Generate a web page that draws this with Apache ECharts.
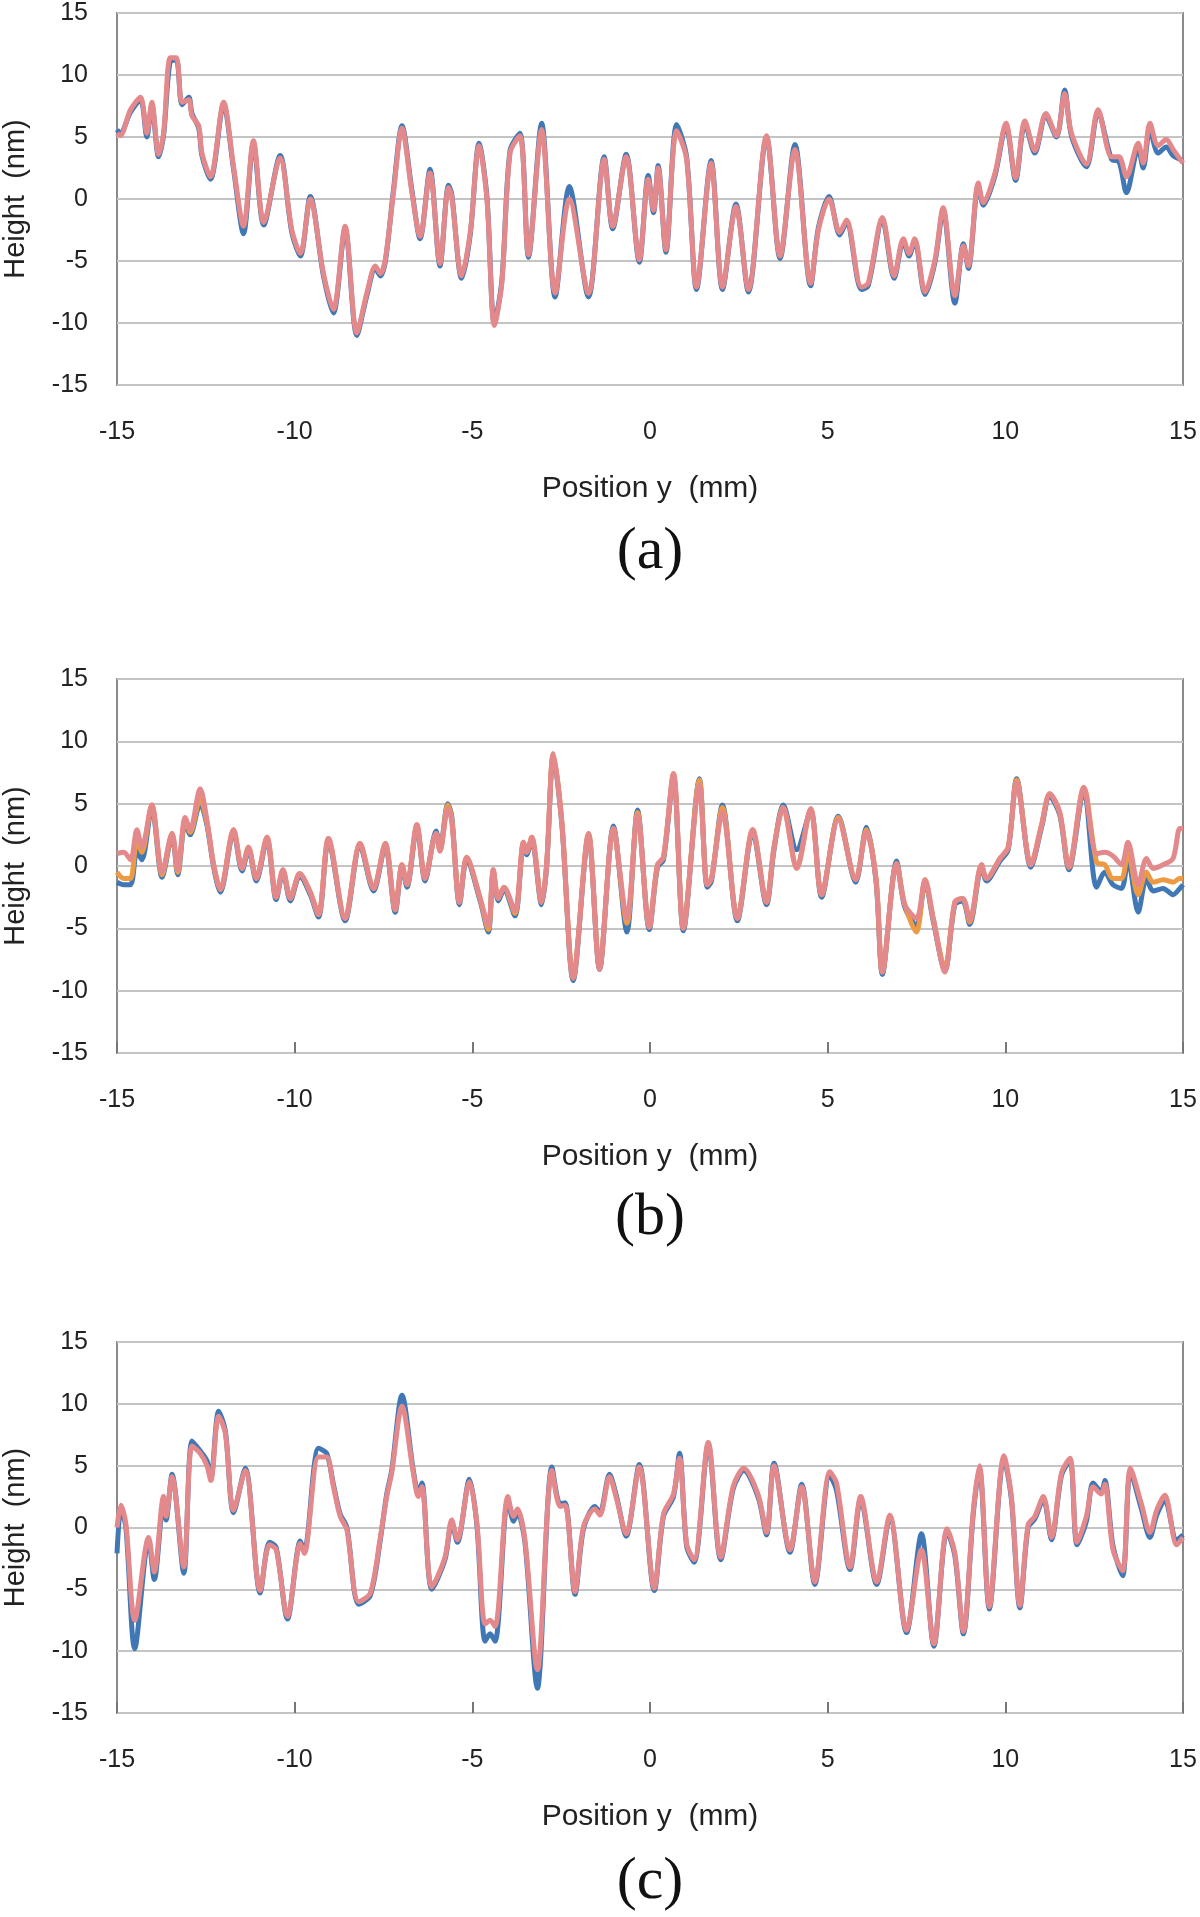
<!DOCTYPE html>
<html>
<head>
<meta charset="utf-8">
<script src="https://cdn.jsdelivr.net/npm/echarts@6/dist/echarts.min.js"></script>
<style>
  html, body { margin: 0; padding: 0; background: #fff; }
  #chart { width: 1200px; height: 1917px; }
</style>
</head>
<body>
<div id="chart"></div>
<script>
// x ticks (mm) and y ticks (nm)
var xTicks = [-15, -10, -5, 0, 5, 10, 15];
var yTicks = [-15, -10, -5, 0, 5, 10, 15];
var panelLabels = ['(a)', '(b)', '(c)'];

// panel (a)
var posA = [-15.00,-14.91,-14.62,-14.34,-14.16,-14.02,-13.83,-13.69,-13.50,-13.33,
  -13.17,-12.98,-12.89,-12.70,-12.61,-12.37,-12.00,-11.72,-11.44,-11.16,
  -10.87,-10.41,-10.08,-9.84,-9.56,-9.19,-8.91,-8.58,-8.25,-7.97,
  -7.73,-7.59,-7.45,-7.22,-6.98,-6.70,-6.47,-6.19,-5.91,-5.67,
  -5.58,-5.30,-5.06,-4.81,-4.59,-4.38,-4.17,-3.94,-3.66,-3.42,
  -3.05,-2.67,-2.27,-1.73,-1.29,-1.05,-0.67,-0.30,-0.05,0.10,
  0.23,0.45,0.75,1.03,1.31,1.72,2.04,2.42,2.77,3.28,
  3.66,4.08,4.52,4.74,5.04,5.34,5.53,5.95,6.14,6.54,
  6.87,7.13,7.29,7.45,7.74,8.02,8.25,8.58,8.82,8.96,
  9.24,9.38,9.71,10.02,10.29,10.55,10.83,11.14,11.44,11.67,
  11.86,12.28,12.61,12.99,13.20,13.41,13.74,13.88,14.07,14.30,
  14.53,14.72,15.00];
var pinkA = [5.3,5.1,7.2,8.2,5.3,7.8,3.6,5.3,11.4,11.4,
  7.8,8.0,6.7,5.9,3.7,1.8,7.8,2.6,-2.2,4.7,
  -1.9,3.3,-2.5,-4.4,0.0,-6.0,-8.9,-2.2,-10.8,-7.6,
  -5.4,-6.0,-4.9,0.5,5.7,0.5,-3.0,2.1,-5.2,0.9,
  0.2,-6.2,-2.7,4.3,0.0,-10.2,-6.8,3.7,5.1,-4.5,
  5.6,-7.6,0.0,-7.6,3.2,-2.2,3.4,-4.9,1.6,-0.9,
  2.5,-4.1,5.5,3.2,-7.1,2.9,-7.1,-0.6,-7.3,5.1,
  -4.6,4.0,-6.8,-2.5,0.0,-2.7,-1.7,-7.1,-6.8,-1.5,
  -6.2,-3.2,-4.4,-3.2,-7.5,-4.9,-0.7,-7.8,-3.8,-5.4,
  1.3,-0.3,2.1,6.1,1.7,6.3,3.9,6.9,5.1,8.5,
  5.3,2.8,7.2,3.4,3.4,1.8,4.5,2.9,6.1,4.3,
  4.8,4.0,2.9];
var blueA = [5.6,5.3,7.0,8.0,5.0,7.6,3.4,5.1,11.1,11.2,
  7.6,8.2,6.9,5.7,3.5,1.6,7.6,2.4,-2.8,4.5,
  -2.1,3.5,-2.7,-4.6,0.2,-6.2,-9.2,-2.4,-11.0,-7.8,
  -5.6,-6.2,-5.1,0.7,5.9,0.7,-3.2,2.4,-5.4,1.1,
  0.4,-6.4,-2.9,4.5,0.2,-10.0,-6.6,3.9,5.3,-4.7,
  6.1,-7.9,1.0,-7.9,3.4,-2.4,3.6,-5.1,1.9,-1.1,
  2.7,-4.3,6.0,3.4,-7.3,3.1,-7.3,-0.4,-7.5,5.0,
  -4.8,4.4,-7.0,-2.3,0.2,-2.9,-1.9,-7.3,-7.0,-1.7,
  -6.4,-3.4,-4.6,-3.4,-7.7,-5.1,-0.9,-8.4,-3.6,-5.6,
  1.1,-0.5,1.9,5.9,1.5,6.1,3.7,6.7,5.0,8.8,
  5.1,2.6,7.0,3.2,3.0,0.5,4.1,2.5,5.6,3.7,
  4.2,3.5,3.1];

// panel (b)
var posB = [-15.00,-14.81,-14.62,-14.44,-14.30,-14.02,-13.73,-13.45,-13.29,-13.08,
  -12.94,-12.66,-12.47,-12.28,-12.09,-11.72,-11.48,-11.30,-11.08,-10.78,
  -10.52,-10.33,-10.12,-9.86,-9.56,-9.33,-9.05,-8.58,-8.16,-7.78,
  -7.45,-7.17,-6.98,-6.84,-6.56,-6.33,-6.02,-5.91,-5.69,-5.58,
  -5.36,-5.16,-4.78,-4.55,-4.41,-4.27,-4.11,-3.80,-3.56,-3.47,
  -3.33,-3.05,-2.91,-2.72,-2.48,-2.16,-1.73,-1.42,-1.03,-0.65,
  -0.35,-0.02,0.21,0.38,0.66,0.94,1.39,1.61,1.73,2.04,
  2.46,2.89,3.28,3.49,3.75,4.13,4.52,4.83,5.30,5.79,
  6.09,6.36,6.54,6.94,7.17,7.50,7.74,7.97,8.30,8.58,
  8.80,9.00,9.33,9.47,9.85,10.08,10.32,10.72,11.02,11.25,
  11.53,11.79,12.21,12.57,12.80,13.03,13.27,13.45,13.74,13.97,
  14.16,14.44,14.72,14.91,15.00];
var orangeB = [-0.5,-1.0,-1.0,2.2,1.1,4.9,-0.7,2.6,-0.5,3.7,
  2.7,5.4,3.5,0.1,-1.9,2.9,-0.2,1.5,-1.0,2.3,
  -2.5,-0.3,-2.6,-0.6,-2.1,-3.9,2.2,-4.2,1.8,-1.8,
  1.8,-3.5,0.1,-1.5,3.3,-1.0,2.6,1.2,4.9,3.8,
  -2.9,0.7,-2.6,-5.1,-0.3,-2.6,-1.7,-3.8,1.9,1.1,
  2.3,-2.9,0.1,9.0,3.5,-9.0,2.6,-8.1,3.0,-4.6,
  4.3,-4.9,0.1,0.7,7.4,-5.0,6.9,-1.5,-1.0,4.7,
  -4.2,2.9,-2.9,1.5,4.7,-0.2,4.6,-2.3,3.9,-1.1,
  2.9,-1.0,-8.5,0.2,-3.1,-5.3,-1.1,-4.2,-8.2,-2.9,
  -2.6,-4.5,0.1,-1.0,0.6,1.5,6.9,0.1,3.3,5.8,
  4.3,-0.1,6.3,0.3,0.1,-1.0,-1.0,1.1,-2.3,-0.5,
  -1.3,-1.1,-1.3,-1.0,-1.0];
var pinkB = [1.0,1.1,0.5,2.9,1.5,4.9,-0.5,2.6,-0.3,3.9,
  2.9,6.2,3.7,0.1,-1.9,2.9,-0.2,1.5,-1.0,2.3,
  -2.5,-0.3,-2.6,-0.6,-2.1,-3.9,2.2,-4.2,1.8,-1.8,
  1.8,-3.5,0.1,-1.5,3.3,-1.0,2.6,1.2,4.6,3.6,
  -2.9,0.7,-2.6,-4.8,-0.3,-2.6,-1.7,-3.6,1.9,1.1,
  2.3,-2.9,0.1,9.0,3.5,-9.0,2.6,-8.3,3.0,-4.2,
  4.1,-4.9,0.1,0.7,7.4,-5.0,6.5,-1.5,-1.0,4.3,
  -4.2,2.9,-2.9,1.5,4.7,-0.2,4.6,-2.3,3.7,-1.1,
  2.7,-1.0,-8.5,0.2,-3.1,-4.2,-1.1,-4.2,-8.5,-2.9,
  -2.6,-4.3,0.1,-1.0,0.6,1.5,6.7,0.1,3.3,5.8,
  4.3,-0.1,6.3,1.0,1.1,0.8,0.1,1.9,-1.5,0.6,
  -0.2,0.1,0.6,3.0,3.0];
var blueB = [-1.3,-1.5,-1.5,1.2,0.5,4.7,-0.9,2.4,-0.7,3.5,
  2.5,5.0,3.3,-0.1,-2.1,2.7,-0.4,1.3,-1.2,2.1,
  -2.7,-0.5,-2.8,-0.8,-2.3,-4.1,2.0,-4.4,1.6,-2.0,
  1.6,-3.7,-0.1,-1.7,3.1,-1.2,2.8,1.4,5.0,4.0,
  -3.1,0.5,-2.8,-5.3,-0.5,-2.8,-1.9,-4.0,1.7,0.9,
  2.1,-3.1,-0.1,8.8,3.3,-9.2,2.4,-8.3,3.2,-5.3,
  4.5,-5.1,-0.1,0.5,7.2,-5.2,7.0,-1.7,-1.2,4.9,
  -4.4,2.7,-3.1,1.3,4.9,1.3,4.4,-2.5,4.0,-1.3,
  3.1,-1.2,-8.7,0.4,-3.3,-4.8,-1.3,-4.4,-8.4,-3.1,
  -2.8,-4.7,-0.1,-1.2,0.4,1.3,7.0,-0.1,3.1,5.6,
  4.1,-0.3,6.1,-1.7,-0.5,-1.5,-1.8,0.5,-3.7,-1.0,
  -2.0,-1.8,-2.3,-1.8,-1.5];

// panel (c)
var posC = [-15.00,-14.89,-14.75,-14.50,-14.11,-13.95,-13.69,-13.62,-13.45,-13.12,
  -12.89,-12.66,-12.47,-12.36,-12.14,-11.95,-11.72,-11.39,-10.97,-10.71,
  -10.52,-10.20,-9.84,-9.73,-9.33,-9.10,-8.91,-8.72,-8.53,-8.20,
  -7.87,-7.59,-7.41,-7.27,-6.98,-6.66,-6.52,-6.42,-6.14,-5.77,
  -5.58,-5.42,-5.08,-4.87,-4.64,-4.50,-4.36,-4.00,-3.84,-3.73,
  -3.52,-3.17,-2.76,-2.53,-2.39,-2.11,-1.87,-1.55,-1.41,-1.14,
  -0.94,-0.67,-0.30,0.12,0.38,0.66,0.83,1.03,1.24,1.64,
  1.99,2.34,2.64,3.05,3.28,3.49,3.94,4.27,4.64,5.06,
  5.25,5.63,5.93,6.38,6.75,7.22,7.64,7.99,8.36,8.58,
  8.82,9.10,9.27,9.55,9.96,10.17,10.41,10.64,10.83,11.07,
  11.30,11.58,11.82,12.02,12.28,12.47,12.70,12.80,13.03,13.30,
  13.52,13.83,14.07,14.26,14.49,14.82,15.00];
var pinkC = [0.0,1.8,0.3,-7.5,-0.8,-3.6,2.5,0.9,4.1,-3.2,
  6.6,6.0,5.0,3.8,9.0,7.6,1.4,4.6,-5.1,-1.4,
  -1.8,-7.2,-1.3,-2.1,5.7,5.7,3.3,0.9,-0.2,-6.0,
  -5.3,-0.8,2.5,4.4,9.8,4.4,2.5,3.3,-4.8,-2.4,
  0.6,-1.0,3.7,0.3,-7.8,-7.5,-8.0,2.5,0.9,1.5,
  -1.0,-11.5,4.6,1.7,1.8,-5.2,0.1,1.5,1.0,4.1,
  2.3,-0.5,4.9,-4.9,1.1,2.7,5.6,-1.3,-2.6,6.9,
  -2.4,3.3,4.8,2.6,-0.4,5.0,-1.8,3.3,-4.4,4.5,
  3.6,-3.2,2.5,-4.4,1.0,-8.3,-1.8,-9.4,-0.1,-2.1,
  -8.4,1.4,5.0,-6.4,5.8,2.5,-6.3,0.2,0.9,2.5,
  -0.8,4.4,5.6,-1.2,0.9,3.3,2.7,3.5,-1.8,-3.5,
  4.8,1.9,-0.4,1.4,2.6,-1.4,-0.8];
var blueC = [-2.1,1.5,0.0,-9.8,-1.0,-4.2,2.0,0.6,4.3,-3.7,
  7.0,6.2,5.4,4.0,9.4,7.8,1.2,4.8,-5.3,-1.2,
  -1.6,-7.4,-1.1,-1.9,6.4,6.0,3.5,1.1,0.0,-6.2,
  -5.5,-1.0,2.7,4.6,10.7,4.6,2.8,3.6,-5.0,-2.6,
  0.4,-1.2,3.9,0.1,-9.2,-8.6,-9.2,2.3,0.5,1.2,
  -1.2,-13.0,4.9,1.9,2.0,-5.4,-0.1,1.7,1.2,4.3,
  2.5,-0.7,5.1,-5.1,0.9,2.5,6.0,-1.5,-2.8,6.7,
  -2.6,3.1,4.6,2.4,-0.6,5.2,-2.0,3.5,-4.6,4.2,
  3.0,-3.4,2.3,-4.6,0.8,-8.5,-0.5,-9.6,-0.3,-2.3,
  -8.6,1.2,4.8,-6.6,5.6,2.3,-6.5,0.0,0.7,2.3,
  -1.0,4.2,5.4,-1.4,0.5,3.6,2.9,3.8,-1.5,-3.9,
  4.5,1.5,-0.8,1.0,2.2,-1.0,-0.6];

var grids = [
  {top: 13, height: 372, ticks: false, labelY: 552},
  {top: 679, height: 374, ticks: true, labelY: 1218},
  {top: 1342, height: 371, ticks: true, labelY: 1882}
];

function pairs(xs, ys) {
  var out = [];
  for (var i = 0; i < xs.length; i++) out.push([xs[i], ys[i]]);
  return out;
}

var FONT = '"Liberation Sans", Arial, sans-serif';
var chart = echarts.init(document.getElementById('chart'));

var option = {
  animation: false,
  backgroundColor: '#fff',
  grid: [],
  xAxis: [],
  yAxis: [],
  series: [],
  graphic: []
};

grids.forEach(function (g, i) {
  option.grid.push({
    left: 117, right: 17, top: g.top, height: g.height,
    outerBoundsMode: 'none', containLabel: false,
    show: true, borderColor: '#8a8a8a', borderWidth: 2, backgroundColor: 'transparent'
  });
  option.xAxis.push({
    gridIndex: i, type: 'value', min: xTicks[0], max: xTicks[xTicks.length - 1], interval: 5,
    name: 'Position y  (mm)', nameLocation: 'middle', nameGap: 89,
    nameTextStyle: {fontFamily: FONT, fontSize: 30, color: '#222'},
    axisLine: {show: false, onZero: false},
    axisTick: {show: g.ticks, inside: true, length: 11, lineStyle: {color: '#777', width: 2}},
    axisLabel: {fontFamily: FONT, fontSize: 25, color: '#222', margin: 35},
    splitLine: {show: false}
  });
  option.yAxis.push({
    gridIndex: i, type: 'value', min: yTicks[0], max: yTicks[yTicks.length - 1], interval: 5,
    name: 'Height  (nm)', nameLocation: 'middle', nameGap: 87, nameRotate: 90,
    nameTextStyle: {fontFamily: FONT, fontSize: 29, color: '#222'},
    axisLine: {show: false, onZero: false},
    axisTick: {show: false},
    axisLabel: {fontFamily: FONT, fontSize: 25, color: '#222', margin: 29},
    splitLine: {show: true, lineStyle: {color: '#c4c4c4', width: 2}}
  });
  option.graphic.push({
    type: 'text', x: 650, y: g.labelY,
    style: {text: panelLabels[i], font: '60px "Liberation Serif", "Times New Roman", serif',
      fill: '#111', align: 'center', verticalAlign: 'middle'}
  });
});

function addLine(idx, xs, ys, color, z) {
  option.series.push({
    type: 'line', xAxisIndex: idx, yAxisIndex: idx,
    data: pairs(xs, ys), showSymbol: false, symbol: 'none', z: z,
    smooth: 0.3,
    lineStyle: {color: color, width: 5}
  });
}

addLine(0, posA, blueA, '#3f78b5', 2);
addLine(0, posA, pinkA, '#e3898b', 4);

addLine(1, posB, blueB, '#3f78b5', 2);
addLine(1, posB, orangeB, '#ee9a45', 3);
addLine(1, posB, pinkB, '#e3898b', 4);

addLine(2, posC, blueC, '#3f78b5', 2);
addLine(2, posC, pinkC, '#e3898b', 4);

chart.setOption(option);
</script>
</body>
</html>
